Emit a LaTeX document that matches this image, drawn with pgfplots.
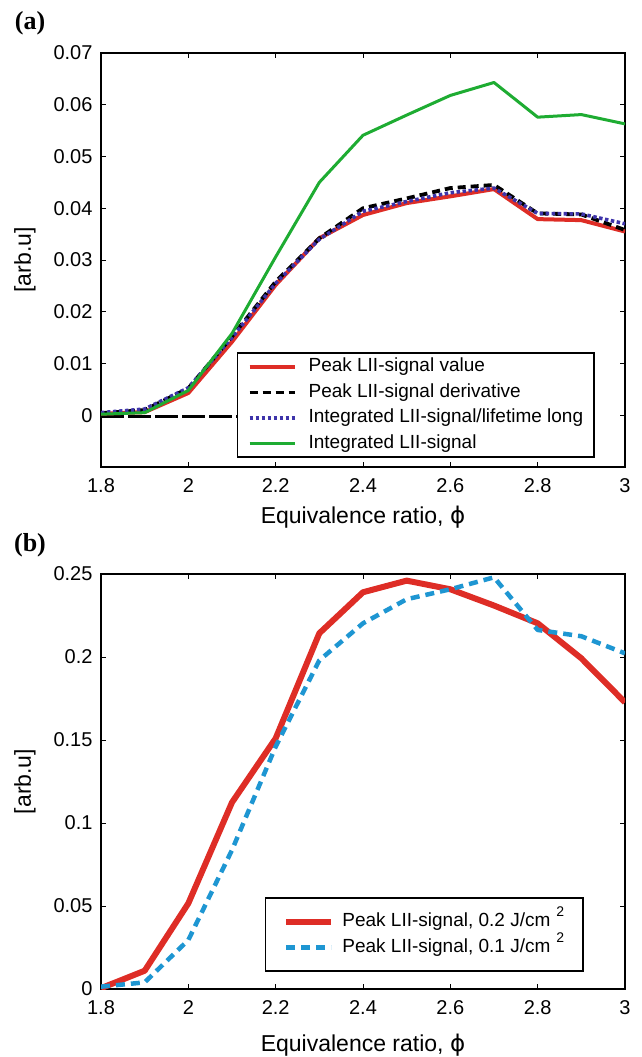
\documentclass[border=0pt]{standalone}
\usepackage{fontspec}
\setmainfont{Liberation Sans}
\newfontfamily\lserif{Liberation Serif}
\newfontfamily\dejavu{DejaVu Sans}
\usepackage{pgfplots}
\pgfplotsset{compat=1.18}
\definecolor{cred}{RGB}{222,45,38}
\definecolor{cgreen}{RGB}{30,172,50}
\definecolor{cpurple}{RGB}{62,52,170}
\definecolor{cblue}{RGB}{30,150,210}
\pgfplotsset{
  common/.style={
    scale only axis, width=524pt,
    xmin=1.8, xmax=3,
    xtick={1.8,2,2.2,2.4,2.6,2.8,3},
    xtick pos=both, ytick pos=both,
    xticklabel pos=lower, yticklabel pos=left,
    tick align=inside, major tick length=5pt,
    minor tick num=0,
    tick style={line width=0.9pt, black},
    axis line style={line width=1.2pt, black},
    scaled ticks=false,
    /pgf/number format/assume math mode=true,
    ticklabel style={font=\fontsize{20}{24}\selectfont},
    xticklabel style={/pgf/number format/fixed, /pgf/number format/precision=1, inner ysep=0pt, yshift=-11.5pt},
    yticklabel style={/pgf/number format/fixed, /pgf/number format/precision=2, inner ysep=0pt, xshift=-5pt},
    label style={font=\fontsize{23}{27}\selectfont},
    ylabel style={at={(axis description cs:-0.145,0.5)}, anchor=center},
    legend image code/.code={\draw[##1] (0pt,0pt) -- (45pt,0pt);},
    every axis plot/.append style={line join=round},
  }
}
\begin{document}
\begin{tikzpicture}[x=1pt,y=1pt]
\path[use as bounding box] (0,0) rectangle (641,1057);
\node[font=\lserif\bfseries\fontsize{26}{30}\selectfont] at (30,1034) {(a)};
\node[font=\lserif\bfseries\fontsize{26}{30}\selectfont] at (30,512) {(b)};
\begin{axis}[common, at={(101pt,590pt)}, anchor=south west, height=414pt,
  ymin=-0.01, ymax=0.07,
  ytick={0,0.01,0.02,0.03,0.04,0.05,0.06,0.07},
  xlabel={Equivalence ratio, {\dejavu ϕ}},
  ylabel={[arb.u]},
  xlabel style={at={(axis description cs:0.5,-0.1208)}, anchor=center},
  legend style={at={(0.9427,0.0217)}, anchor=south east, draw=black, line width=1.6pt,
    fill=white, font=\fontsize{19}{22}\selectfont, inner xsep=10pt, inner ysep=4pt,
    row sep=6pt, column sep=11pt,
    nodes={inner sep=1pt, text height=13.5pt, text depth=4pt}, cells={anchor=west}},
]
\addplot[black, line width=2.7pt, dash pattern=on 23pt off 4pt, forget plot] coordinates {
(1.8,-0.0002) (2.6,-0.0002)};
\addplot[cred, line width=4pt] coordinates {
(1.8,0.0003) (1.9,0.0006) (2.0,0.0043) (2.1,0.0142) (2.2,0.0252) (2.3,0.0342)
(2.4,0.0387) (2.5,0.0410) (2.6,0.0423) (2.7,0.0437) (2.8,0.0379) (2.9,0.0377) (3.0,0.0355)};
\addlegendentry{Peak LII-signal value}
\addplot[black, line width=3.8pt, dash pattern=on 8pt off 5pt] coordinates {
(1.8,0.0004) (1.9,0.0010) (2.0,0.0052) (2.1,0.0152) (2.2,0.0258) (2.3,0.0342)
(2.4,0.0400) (2.5,0.0419) (2.6,0.0439) (2.7,0.0445) (2.8,0.0390) (2.9,0.0388) (3.0,0.0358)};
\addlegendentry{Peak LII-signal derivative}
\addplot[cpurple, line width=3.6pt, dash pattern=on 3.5pt off 2.5pt] coordinates {
(1.8,0.0005) (1.9,0.0012) (2.0,0.0053) (2.1,0.0150) (2.2,0.0255) (2.3,0.0340)
(2.4,0.0394) (2.5,0.0413) (2.6,0.0430) (2.7,0.0439) (2.8,0.0390) (2.9,0.0389) (3.0,0.0370)};
\addlegendentry{Integrated LII-signal/lifetime long}
\addplot[cgreen, line width=3pt] coordinates {
(1.8,0.0002) (1.9,0.0005) (2.0,0.0048) (2.1,0.0158) (2.2,0.0306) (2.3,0.0450)
(2.4,0.0541) (2.5,0.0580) (2.6,0.0618) (2.7,0.0643) (2.8,0.0576) (2.9,0.0581) (3.0,0.0563)};
\addlegendentry{Integrated LII-signal}
\end{axis}
\begin{axis}[common, at={(101pt,68pt)}, anchor=south west, height=415pt,
  ymin=0, ymax=0.25,
  ytick={0,0.05,0.1,0.15,0.2,0.25},
  xlabel={Equivalence ratio, {\dejavu ϕ}},
  ylabel={[arb.u]},
  xlabel style={at={(axis description cs:0.5,-0.1349)}, anchor=center},
  legend style={at={(0.9218,0.041)}, anchor=south east, draw=black, line width=1.6pt,
    fill=white, font=\fontsize{19}{22}\selectfont, inner xsep=18pt, inner ysep=14pt,
    row sep=6pt, column sep=7pt,
    nodes={inner sep=1pt, text height=13.5pt, text depth=4pt}, cells={anchor=west}},
]
\addplot[cred, line width=6pt] coordinates {
(1.8,0.0005) (1.9,0.011) (2.0,0.0516) (2.1,0.1124) (2.2,0.151) (2.3,0.2143)
(2.4,0.239) (2.5,0.246) (2.6,0.2408) (2.7,0.231) (2.8,0.2203) (2.9,0.1992) (3.0,0.1727)};
\addlegendentry{Peak LII-signal, 0.2 J/cm\hspace{6pt}\raisebox{10pt}{\fontsize{14}{16}\selectfont 2}}
\addplot[cblue, line width=4.5pt, dash pattern=on 9pt off 6pt] coordinates {
(1.8,0.0014) (1.9,0.004) (2.0,0.0295) (2.1,0.0837) (2.2,0.146) (2.3,0.198)
(2.4,0.2203) (2.5,0.2348) (2.6,0.2408) (2.7,0.248) (2.8,0.2163) (2.9,0.2125) (3.0,0.2022)};
\addlegendentry{Peak LII-signal, 0.1 J/cm\hspace{6pt}\raisebox{10pt}{\fontsize{14}{16}\selectfont 2}}
\end{axis}
\end{tikzpicture}
\end{document}
